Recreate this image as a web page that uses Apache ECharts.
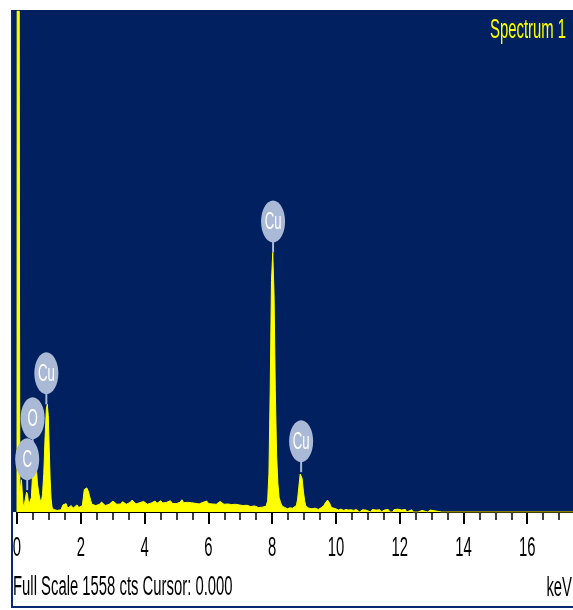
<!DOCTYPE html>
<html>
<head>
<meta charset="utf-8">
<script src="https://cdn.jsdelivr.net/npm/echarts@6/dist/echarts.min.js"></script>
<style>
  html, body { margin: 0; padding: 0; background: #fff; overflow: hidden; }
  #chart { width: 591px; height: 610px; }
</style>
</head>
<body>
<div id="chart"></div>
<script>
// EDS spectrum: energy channels (keV) and counts
const fullScale = 1558;

const energies = [
  0.00, 0.005, 0.02, 0.07, 0.08, 0.09, 0.12, 0.14, 0.16, 0.19,
  0.22, 0.26, 0.30, 0.33, 0.37, 0.41, 0.45, 0.49, 0.53, 0.56,
  0.60, 0.64, 0.68, 0.72, 0.76, 0.80, 0.84, 0.88, 0.92, 0.95,
  0.98, 1.01, 1.04, 1.07, 1.10, 1.14, 1.20, 1.26, 1.32, 1.38,
  1.44, 1.49, 1.54, 1.59, 1.64, 1.70, 1.76, 1.82, 1.88, 1.94,
  2.00, 2.05, 2.08, 2.11, 2.15, 2.19, 2.23, 2.27, 2.31, 2.35,
  2.41, 2.47, 2.53, 2.59, 2.65, 2.71, 2.77, 2.83, 2.89, 2.95,
  3.01, 3.07, 3.13, 3.19, 3.25, 3.31, 3.37, 3.43, 3.49, 3.55,
  3.61, 3.67, 3.73, 3.79, 3.85, 3.91, 3.97, 4.03, 4.09, 4.15,
  4.21, 4.27, 4.33, 4.39, 4.45, 4.51, 4.57, 4.63, 4.69, 4.75,
  4.81, 4.87, 4.93, 4.99, 5.05, 5.11, 5.17, 5.23, 5.29, 5.35,
  5.41, 5.47, 5.53, 5.59, 5.65, 5.71, 5.77, 5.83, 5.89, 5.95,
  6.01, 6.07, 6.13, 6.19, 6.25, 6.31, 6.37, 6.43, 6.49, 6.55,
  6.61, 6.67, 6.73, 6.79, 6.85, 6.91, 6.97, 7.03, 7.09, 7.15,
  7.21, 7.27, 7.33, 7.39, 7.45, 7.51, 7.57, 7.63, 7.69, 7.75,
  7.81, 7.86, 7.90, 7.94, 7.98, 8.02, 8.06, 8.10, 8.14, 8.18,
  8.22, 8.27, 8.32, 8.40, 8.48, 8.56, 8.64, 8.70, 8.76, 8.80,
  8.84, 8.88, 8.91, 8.94, 8.98, 9.02, 9.06, 9.10, 9.15, 9.25,
  9.35, 9.45, 9.55, 9.62, 9.68, 9.74, 9.80, 9.86, 9.92, 10.00,
  10.08, 10.16, 10.24, 10.32, 10.40, 10.48, 10.56, 10.64, 10.70, 10.74,
  10.80, 10.84, 10.94, 11.00, 11.10, 11.14, 11.26, 11.38, 11.42, 11.48,
  11.52, 11.64, 11.70, 11.78, 11.82, 11.94, 12.06, 12.18, 12.22, 12.26,
  12.28, 12.38, 12.42, 12.58, 12.62, 12.70, 12.74, 12.88, 12.90, 12.96,
  13.00, 13.32, 13.34, 13.38, 13.40, 18.00
];

const counts = [
  0, 1558, 1558, 1558, 600, 60, 85, 100, 70, 25,
  18, 40, 62, 55, 22, 18, 45, 120, 195, 200,
  150, 90, 60, 40, 30, 55, 120, 230, 320, 335,
  300, 200, 100, 40, 15, 8, 6, 5, 9, 7,
  22, 28, 26, 12, 14, 20, 12, 16, 22, 14,
  16, 20, 45, 70, 74, 75, 66, 52, 36, 24,
  18, 20, 22, 24, 31, 30, 20, 22, 24, 30,
  34, 33, 24, 26, 25, 32, 31, 24, 27, 30,
  37, 33, 25, 27, 29, 34, 33, 31, 24, 26,
  28, 33, 34, 27, 30, 35, 28, 26, 30, 34,
  35, 27, 28, 26, 29, 30, 38, 29, 27, 30,
  26, 29, 31, 27, 28, 25, 29, 30, 36, 34,
  26, 28, 25, 29, 24, 27, 33, 31, 24, 22,
  25, 20, 23, 21, 24, 19, 22, 26, 20, 18,
  21, 16, 17, 15, 19, 16, 14, 17, 15, 20,
  18, 35, 120, 380, 720, 807, 680, 380, 180, 90,
  45, 28, 18, 14, 10, 13, 12, 15, 20, 40,
  80, 118, 124, 105, 65, 35, 18, 12, 12, 10,
  12, 8, 14, 20, 30, 37, 28, 14, 8, 10,
  6, 9, 5, 8, 6, 7, 5, 8, 4, 0,
  0, 7, 6, 0, 0, 8, 6, 7, 0, 0,
  6, 8, 0, 0, 7, 9, 6, 8, 0, 0,
  6, 7, 0, 0, 6, 5, 0, 0, 5, 6,
  0, 0, 5, 6, 0, 0
];

// Element line markers: energy (keV), count where the marker stem ends, symbol
const markerEnergies = [0.32, 0.49, 0.92, 8.03, 8.91];
const markerCounts = [68, 195, 335, 807, 124];
const markerLabels = ['C', 'O', 'Cu', 'Cu', 'Cu'];

// Axis tick labels (keV)
const tickValues = [0, 2, 4, 6, 8, 10, 12, 14, 16];
const tickLabels = ['0', '2', '4', '6', '8', '10', '12', '14', '16'];

const spectrumTitle = 'Spectrum 1';
const statusText = 'Full Scale ' + fullScale + ' cts Cursor: 0.000';
const unitText = 'keV';

const PLOT_BG = '#002060';
const TRACE = '#FFFF00';
const MARKER = '#AABAD6';
const FRAME = '#0A2A70';
const FONT = '"Liberation Sans", Arial, sans-serif';
const NARROW = 0.55;

const spectrumData = energies.map((e, i) => [e, counts[i]]);
const markerData = markerEnergies.map((e, i) => [e, markerCounts[i]]);

// The canvas runs a little past the visible window so that the 0–18 keV axis ends off-screen
const chart = echarts.init(document.getElementById('chart'), null, { renderer: 'canvas', width: 591, height: 610 });

function markerItem(params, api) {
  const p = api.coord([api.value(0), api.value(1)]);
  const stem = 10, rx = 12, ry = 21;
  const cy = p[1] - stem - ry;
  return {
    type: 'group',
    children: [
      { type: 'line', shape: { x1: p[0], y1: p[1], x2: p[0], y2: cy + ry - 2 },
        style: { stroke: MARKER, lineWidth: 2 } },
      { type: 'ellipse', shape: { cx: p[0], cy: cy, rx: rx, ry: ry },
        style: { fill: MARKER } },
      { type: 'text', x: p[0], y: cy + 1, scaleX: NARROW,
        style: { text: markerLabels[params.dataIndex], fill: '#ffffff',
                 font: '24px ' + FONT, align: 'center', verticalAlign: 'middle' } }
    ]
  };
}

chart.setOption({
  animation: false,
  backgroundColor: '#ffffff',
  grid: { left: 17, right: 0, top: 11, bottom: 98, show: false },
  xAxis: {
    type: 'value', min: 0, max: 18, interval: 2,
    axisLine: { show: true, onZero: false, lineStyle: { color: '#000', width: 2 } },
    axisTick: { show: true, length: 12, lineStyle: { color: '#000', width: 2 } },
    minorTick: { show: true, splitNumber: 4, length: 8, lineStyle: { color: '#000', width: 1.5 } },
    axisLabel: { show: false },
    splitLine: { show: false }
  },
  yAxis: { type: 'value', min: 0, max: fullScale, show: false, splitLine: { show: false } },
  series: [
    {
      type: 'line', data: spectrumData, showSymbol: false, clip: true,
      lineStyle: { color: TRACE, width: 1 },
      itemStyle: { color: TRACE },
      areaStyle: { color: TRACE, opacity: 1 },
      z: 2
    },
    {
      type: 'custom', data: markerData, renderItem: markerItem, clip: false, z: 5
    }
  ]
});

// Panel frame and texts; tick labels are placed from the x axis scale
const graphics = [
  { type: 'rect', z: -100, shape: { x: 12, y: 10, width: 579, height: 502 }, style: { fill: PLOT_BG } },
  { type: 'text', z: 100, x: 566, y: 31, scaleX: NARROW,
    style: { text: spectrumTitle, fill: TRACE, font: '27px ' + FONT, align: 'right', verticalAlign: 'middle' } },
  { type: 'text', z: 100, x: 13, y: 588, scaleX: NARROW,
    style: { text: statusText, fill: '#000', font: '27px ' + FONT, align: 'left', verticalAlign: 'middle' } },
  { type: 'text', z: 100, x: 572, y: 589, scaleX: NARROW,
    style: { text: unitText, fill: '#000', font: '27px ' + FONT, align: 'right', verticalAlign: 'middle' } }
];
tickValues.forEach((v, i) => {
  const x = chart.convertToPixel({ xAxisIndex: 0 }, v);
  graphics.push({ type: 'text', z: 90, x: x, y: 549, scaleX: NARROW,
    style: { text: tickLabels[i], fill: '#000', font: '27px ' + FONT, align: 'center', verticalAlign: 'middle' } });
});
graphics.push(
  { type: 'line', z: 110, shape: { x1: 12, y1: 10, x2: 12, y2: 608 }, style: { stroke: FRAME, lineWidth: 2 } },
  { type: 'line', z: 110, shape: { x1: 11, y1: 607, x2: 591, y2: 607 }, style: { stroke: FRAME, lineWidth: 2 } }
);
chart.setOption({ graphic: { elements: graphics } });
</script>
</body>
</html>
